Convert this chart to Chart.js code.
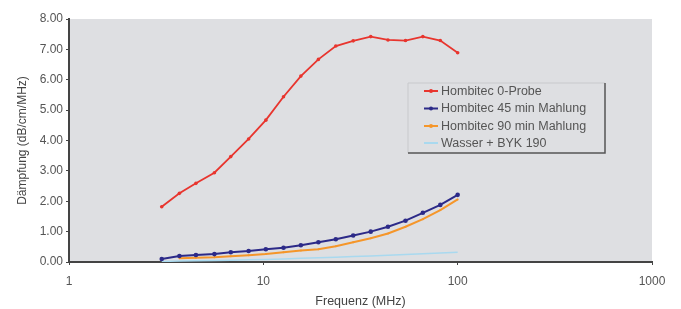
<!DOCTYPE html>
<html>
<head>
<meta charset="utf-8">
<script src="https://cdn.jsdelivr.net/npm/chart.js@4"></script>
<style>
  html, body { margin: 0; padding: 0; background: #fff; }
  #wrap { width: 681px; height: 309px; }
</style>
</head>
<body>
<div id="wrap"><canvas id="daempfung" width="681" height="309"></canvas></div>
<script>
// frequencies in MHz
const freq = [3, 3.7, 4.5, 5.6, 6.8, 8.4, 10.3, 12.7, 15.6, 19.2, 23.6, 29, 35.7, 43.8, 53.9, 66.2, 81.4, 100];

const probe0 = [1.82, 2.26, 2.59, 2.94, 3.47, 4.05, 4.67, 5.44, 6.12, 6.67, 7.11, 7.28, 7.42, 7.31, 7.29, 7.42, 7.29, 6.89];
const mahl45 = [0.10, 0.20, 0.23, 0.26, 0.32, 0.36, 0.42, 0.47, 0.55, 0.65, 0.75, 0.87, 1.00, 1.16, 1.36, 1.62, 1.88, 2.21];
const mahl90 = [null, 0.12, 0.14, 0.16, 0.19, 0.22, 0.26, 0.32, 0.38, 0.42, 0.52, 0.65, 0.78, 0.94, 1.16, 1.41, 1.71, 2.06];
const wasser = [0.02, 0.03, 0.04, 0.05, 0.06, 0.07, 0.08, 0.10, 0.12, 0.14, 0.16, 0.18, 0.20, 0.22, 0.25, 0.27, 0.30, 0.32];

const xTicks = [1, 10, 100, 1000];
const yTicks = [0, 1, 2, 3, 4, 5, 6, 7, 8];

const labels = ['Hombitec 0-Probe', 'Hombitec 45 min Mahlung', 'Hombitec 90 min Mahlung', 'Wasser + BYK 190'];
const colors = ['#e8352e', '#2c2a88', '#f5962a', '#a9d9ef'];

const toPoints = vals => freq.map((f, i) => ({ x: f, y: vals[i] })).filter(p => p.y !== null);

const font = 'Liberation Sans, Arial, sans-serif';

// gray plot area
const plotBg = {
  id: 'plotBg',
  beforeDraw(chart) {
    const { ctx, chartArea: a } = chart;
    ctx.save();
    ctx.fillStyle = '#dedfe2';
    ctx.fillRect(a.left, a.top, a.right - a.left, a.bottom - a.top);
    ctx.restore();
  }
};

// legend box inside the plot, like the original
const boxLegend = {
  id: 'boxLegend',
  afterDraw(chart) {
    const ctx = chart.ctx;
    const x0 = 408, y0 = 83, x1 = 605, y1 = 153;
    ctx.save();
    ctx.fillStyle = '#dedfe2';
    ctx.fillRect(x0, y0, x1 - x0, y1 - y0);
    ctx.strokeStyle = '#c8c9cc';
    ctx.lineWidth = 1;
    ctx.beginPath();
    ctx.moveTo(x0, y1); ctx.lineTo(x0, y0); ctx.lineTo(x1, y0);
    ctx.stroke();
    ctx.strokeStyle = '#555';
    ctx.lineWidth = 1.5;
    ctx.beginPath();
    ctx.moveTo(x1, y0); ctx.lineTo(x1, y1); ctx.lineTo(x0, y1);
    ctx.stroke();

    ctx.font = '12.5px ' + font;
    ctx.textBaseline = 'middle';
    const rows = [91, 108.5, 126, 143];
    chart.data.datasets.forEach((ds, i) => {
      const y = rows[i];
      ctx.strokeStyle = ds.borderColor;
      ctx.lineWidth = 2;
      ctx.beginPath();
      ctx.moveTo(424, y); ctx.lineTo(438, y);
      ctx.stroke();
      if (ds.pointRadius > 0) {
        ctx.fillStyle = ds.borderColor;
        ctx.beginPath();
        ctx.arc(431, y, 2, 0, Math.PI * 2);
        ctx.fill();
      }
      ctx.fillStyle = '#555';
      ctx.fillText(ds.label, 441, y + 0.5);
    });
    ctx.restore();
  }
};

new Chart(document.getElementById('daempfung'), {
  type: 'line',
  data: {
    datasets: [
      { label: labels[0], data: toPoints(probe0), borderColor: colors[0], backgroundColor: colors[0], borderWidth: 1.8, pointRadius: 1.8, pointBorderWidth: 0 },
      { label: labels[1], data: toPoints(mahl45), borderColor: colors[1], backgroundColor: colors[1], borderWidth: 2, pointRadius: 2.3, pointBorderWidth: 0 },
      { label: labels[2], data: toPoints(mahl90), borderColor: colors[2], backgroundColor: colors[2], borderWidth: 2, pointRadius: 1, pointBorderWidth: 0 },
      { label: labels[3], data: toPoints(wasser), borderColor: colors[3], backgroundColor: colors[3], borderWidth: 1.5, pointRadius: 0 }
    ]
  },
  options: {
    responsive: false,
    animation: false,
    layout: { padding: { top: 19, right: 29, left: 0, bottom: 0 } },
    plugins: {
      legend: { display: false },
      tooltip: { enabled: false }
    },
    scales: {
      x: {
        type: 'logarithmic',
        min: 1,
        max: 1000,
        afterBuildTicks: scale => { scale.ticks = xTicks.map(v => ({ value: v })); },
        afterFit: scale => { scale.height = 47; },
        ticks: {
          color: '#555',
          font: { family: font, size: 12 },
          padding: 9,
          maxRotation: 0,
          autoSkip: false,
          callback: v => String(v)
        },
        grid: { drawOnChartArea: false, tickLength: 3, color: '#444' },
        border: { color: '#444', width: 2 },
        title: {
          display: true,
          text: 'Frequenz (MHz)',
          color: '#444',
          font: { family: font, size: 12.5 },
          padding: { top: 4, bottom: 0 }
        }
      },
      y: {
        min: 0,
        max: 8,
        afterBuildTicks: scale => { scale.ticks = yTicks.map(v => ({ value: v })); },
        afterFit: scale => { scale.width = 69; },
        ticks: {
          color: '#555',
          font: { family: font, size: 12 },
          padding: 3,
          callback: v => v.toFixed(2)
        },
        grid: { drawOnChartArea: false, tickLength: 3, color: '#444' },
        border: { color: '#444', width: 2 },
        title: {
          display: true,
          text: 'Dämpfung (dB/cm/MHz)',
          color: '#444',
          font: { family: font, size: 12 },
          padding: { top: 15, bottom: 4 }
        }
      }
    }
  },
  plugins: [plotBg, boxLegend]
});
</script>
</body>
</html>
